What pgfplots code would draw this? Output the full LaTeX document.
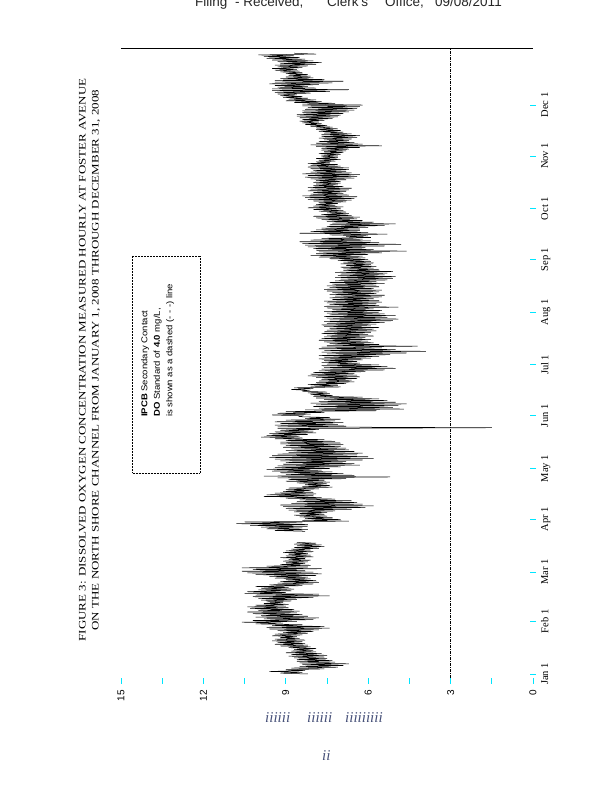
\documentclass[border=0pt]{standalone}
\usepackage{fontspec}
\setmainfont{Liberation Serif}
\setsansfont{Liberation Sans}
\newfontfamily\titlefont[FakeStretch=1.3]{Liberation Serif}
\newfontfamily\notefont[FakeStretch=1.12]{Liberation Sans}
\usepackage{pgfplots}
\usepackage{pgfplotstable}
\pgfplotsset{compat=1.18}

% Hourly DO record condensed to daily low (day d) and daily high (day d+0.5), mg/L
\pgfplotstableread[row sep=\\]{
d v\\
0 8.2\\0.5 9.2\\1 8.4\\1.5 9.6\\2 8.3\\2.5 9.0\\3 7.6\\3.5 8.8\\4 7.1\\4.5 8.5\\
5 6.9\\5.5 8.4\\6 6.7\\6.5 8.5\\7 7.2\\7.5 8.6\\8 7.3\\8.5 8.6\\9 7.5\\9.5 8.7\\
10 7.6\\10.5 8.9\\11 7.5\\11.5 8.8\\12 7.7\\12.5 9.0\\13 7.9\\13.5 8.8\\14 8.0\\14.5 8.7\\
15 7.9\\15.5 8.9\\16 8.1\\16.5 9.2\\17 8.2\\17.5 9.4\\18 8.3\\18.5 9.3\\19 8.4\\19.5 9.5\\
20 8.3\\20.5 9.4\\21 8.5\\21.5 9.2\\22 8.6\\22.5 9.5\\23 8.4\\23.5 9.4\\24 8.2\\24.5 9.1\\
25 8.0\\25.5 9.3\\26 7.8\\26.5 9.6\\27 7.4\\27.5 9.7\\28 7.6\\28.5 9.5\\29 8.4\\29.5 10.1\\
30 9.1\\30.5 10.6\\31 8.6\\31.5 10.2\\32 8.0\\32.5 9.8\\33 7.8\\33.5 10.1\\34 8.2\\34.5 9.9\\
35 8.4\\35.5 10.2\\36 8.6\\36.5 10.4\\37 8.5\\37.5 10.0\\38 8.7\\38.5 10.3\\39 8.9\\39.5 10.4\\
40 9.0\\40.5 10.1\\41 8.9\\41.5 9.8\\42 9.1\\42.5 9.7\\43 8.8\\43.5 9.9\\44 8.6\\44.5 10.0\\
45 8.0\\45.5 10.2\\46 7.4\\46.5 10.1\\47 7.8\\47.5 10.5\\48 9.0\\48.5 10.4\\49 8.8\\49.5 10.0\\
50 8.7\\50.5 9.9\\51 8.9\\51.5 10.1\\52 8.4\\52.5 9.6\\53 8.0\\53.5 9.3\\54 7.8\\54.5 9.2\\
55 7.9\\55.5 9.0\\56 8.1\\56.5 9.4\\57 8.2\\57.5 9.6\\58 7.9\\58.5 10.1\\59 7.7\\59.5 10.4\\
60 8.0\\60.5 10.6\\61 8.3\\61.5 10.2\\62 7.7\\62.5 10.6\\63 8.2\\63.5 9.7\\64 8.1\\64.5 9.2\\
65 8.3\\65.5 9.0\\66 8.2\\66.5 9.1\\67 8.1\\67.5 8.9\\68 8.3\\68.5 9.2\\69 8.0\\69.5 9.0\\
70 8.1\\70.5 8.9\\71 8.2\\71.5 9.1\\72 8.0\\72.5 9.0\\73 8.1\\73.5 8.8\\74 7.8\\74.5 8.7\\
75 7.6\\75.5 8.6\\76 7.7\\76.5 8.7\\77 7.9\\77.5 8.6\\80 nan\\
84 8.3\\84.5 9.4\\85 8.2\\85.5 9.7\\86 8.4\\86.5 9.9\\87 8.2\\87.5 10.3\\88 8.2\\88.5 10.8\\
89 8.4\\89.5 10.5\\90 6.7\\90.5 8.4\\91 7.0\\91.5 8.3\\92 7.3\\92.5 8.5\\93 7.5\\93.5 8.7\\
94 7.6\\94.5 8.5\\95 7.5\\95.5 8.7\\96 7.2\\96.5 8.9\\97 6.6\\97.5 9.0\\98 6.1\\98.5 9.1\\
99 5.8\\99.5 9.2\\100 6.2\\100.5 8.8\\101 6.4\\101.5 8.6\\102 6.6\\102.5 8.5\\103 7.2\\103.5 9.0\\
104 7.7\\104.5 9.8\\105 8.0\\105.5 9.7\\106 7.9\\106.5 9.4\\107 8.0\\107.5 9.1\\108 8.1\\108.5 9.0\\
109 7.8\\109.5 8.9\\110 7.3\\110.5 8.4\\111 7.4\\111.5 8.3\\112 7.5\\112.5 8.6\\113 7.4\\113.5 9.0\\
114 7.6\\114.5 8.9\\115 6.8\\115.5 9.3\\116 5.2\\116.5 9.8\\117 6.5\\117.5 9.0\\118 6.9\\118.5 9.2\\
119 7.3\\119.5 9.5\\120 7.7\\120.5 9.7\\121 7.4\\121.5 9.4\\122 7.0\\122.5 9.3\\123 6.3\\123.5 9.1\\
124 6.5\\124.5 9.0\\125 6.8\\125.5 9.2\\126 6.2\\126.5 9.4\\127 5.8\\127.5 9.6\\128 6.0\\128.5 9.5\\
129 6.4\\129.5 9.3\\130 6.2\\130.5 8.9\\131 6.5\\131.5 9.0\\132 6.7\\132.5 8.8\\133 6.8\\133.5 9.1\\
134 7.0\\134.5 9.0\\135 6.9\\135.5 9.2\\136 7.0\\136.5 9.2\\137 7.2\\137.5 9.0\\138 7.6\\138.5 9.4\\
139 8.4\\139.5 9.9\\140 8.5\\140.5 9.7\\141 8.2\\141.5 9.6\\142 7.9\\142.5 9.4\\143 8.0\\143.5 9.2\\
144 7.8\\144.5 9.3\\145 1.5\\145.5 9.3\\146 6.8\\146.5 9.4\\147 7.1\\147.5 9.2\\148 6.9\\148.5 9.4\\
149 7.2\\149.5 9.0\\150 7.0\\150.5 8.3\\151 7.4\\151.5 8.5\\152 8.4\\152.5 9.5\\153 8.1\\153.5 9.3\\
154 7.6\\154.5 9.0\\155 5.7\\155.5 8.3\\156 4.7\\156.5 7.8\\157 5.1\\157.5 8.0\\158 4.9\\158.5 7.9\\
159 4.6\\159.5 8.1\\160 5.0\\160.5 7.8\\161 5.3\\161.5 7.6\\162 5.6\\162.5 7.9\\163 6.2\\163.5 8.0\\
164 7.3\\164.5 8.1\\165 7.4\\165.5 8.2\\166 7.5\\166.5 8.4\\167 8.2\\167.5 8.8\\168 8.0\\168.5 8.7\\
169 7.0\\169.5 8.1\\170 7.1\\170.5 8.2\\171 6.8\\171.5 7.9\\172 6.5\\172.5 7.8\\173 6.6\\173.5 7.7\\
174 6.4\\174.5 7.9\\175 6.3\\175.5 8.2\\176 6.4\\176.5 8.1\\177 6.5\\177.5 8.0\\178 6.1\\178.5 7.8\\
179 5.4\\179.5 7.7\\180 5.0\\180.5 7.6\\181 5.3\\181.5 7.7\\182 5.6\\182.5 7.5\\183 6.3\\183.5 7.7\\
184 6.4\\184.5 7.6\\185 6.2\\185.5 7.8\\186 5.9\\186.5 7.6\\187 5.6\\187.5 7.8\\188 5.2\\188.5 7.5\\
189 4.6\\189.5 7.7\\190 3.9\\190.5 7.6\\191 5.0\\191.5 7.8\\192 5.5\\192.5 7.7\\193 4.2\\193.5 7.5\\
194 5.6\\194.5 7.4\\195 5.8\\195.5 7.6\\196 6.0\\196.5 7.8\\197 5.9\\197.5 7.7\\198 6.1\\198.5 7.6\\
199 5.8\\199.5 7.5\\200 6.0\\200.5 7.7\\201 5.9\\201.5 7.6\\202 5.7\\202.5 7.5\\203 5.8\\203.5 7.4\\
204 5.6\\204.5 7.6\\205 5.9\\205.5 7.7\\206 5.7\\206.5 7.5\\207 5.4\\207.5 7.6\\208 5.1\\208.5 7.4\\
209 4.9\\209.5 7.5\\210 5.3\\210.5 7.6\\211 5.0\\211.5 7.4\\212 5.4\\212.5 7.5\\213 5.6\\213.5 7.6\\
214 5.5\\214.5 7.3\\215 5.8\\215.5 7.5\\216 4.9\\216.5 7.6\\217 5.6\\217.5 7.4\\218 5.7\\218.5 7.5\\
219 5.5\\219.5 7.6\\220 5.6\\220.5 7.3\\221 5.8\\221.5 7.4\\222 5.5\\222.5 7.2\\223 5.4\\223.5 7.4\\
224 5.7\\224.5 7.3\\225 5.6\\225.5 7.5\\226 5.5\\226.5 7.6\\227 5.8\\227.5 7.4\\228 5.6\\228.5 7.5\\
229 5.7\\229.5 7.3\\230 5.4\\230.5 7.4\\231 5.7\\231.5 7.2\\232 5.3\\232.5 7.0\\233 5.1\\233.5 7.2\\
234 5.0\\234.5 7.1\\235 5.4\\235.5 7.0\\236 5.3\\236.5 7.2\\237 5.1\\237.5 6.9\\238 5.6\\238.5 6.9\\
239 5.8\\239.5 7.0\\240 5.7\\240.5 6.8\\241 5.9\\241.5 7.0\\242 5.8\\242.5 6.9\\243 5.9\\243.5 7.1\\
244 6.0\\244.5 7.4\\245 6.1\\245.5 7.8\\246 6.2\\246.5 8.1\\247 6.0\\247.5 7.9\\248 5.5\\248.5 7.8\\
249 4.6\\249.5 7.9\\250 5.8\\250.5 8.0\\251 6.1\\251.5 8.2\\252 5.4\\252.5 8.3\\253 4.8\\253.5 8.4\\
254 5.6\\254.5 8.5\\255 5.9\\255.5 8.1\\256 6.2\\256.5 7.7\\257 5.9\\257.5 6.8\\258 6.0\\258.5 7.4\\
259 5.3\\259.5 8.5\\260 6.0\\260.5 8.1\\261 6.3\\261.5 7.9\\262 6.3\\262.5 7.7\\263 6.0\\263.5 7.5\\
264 5.4\\264.5 7.4\\265 5.0\\265.5 7.3\\266 5.8\\266.5 7.5\\267 6.2\\267.5 7.7\\268 6.4\\268.5 7.9\\
269 6.3\\269.5 8.0\\270 6.6\\270.5 7.7\\271 6.7\\271.5 7.5\\272 6.8\\272.5 7.8\\273 6.9\\273.5 8.0\\
274 7.0\\274.5 8.2\\275 6.9\\275.5 8.0\\276 7.2\\276.5 7.9\\277 7.1\\277.5 7.8\\278 6.8\\278.5 8.0\\
279 6.6\\279.5 8.2\\280 6.5\\280.5 8.3\\281 6.4\\281.5 8.4\\282 6.7\\282.5 8.1\\283 6.9\\283.5 8.0\\
284 6.8\\284.5 8.2\\285 6.7\\285.5 8.1\\286 6.6\\286.5 8.2\\287 6.9\\287.5 8.0\\288 7.1\\288.5 7.9\\
289 7.0\\289.5 8.0\\290 7.0\\290.5 7.9\\291 6.8\\291.5 8.1\\292 6.5\\292.5 8.3\\293 6.4\\293.5 8.2\\
294 6.3\\294.5 8.4\\295 6.6\\295.5 8.1\\296 6.8\\296.5 8.0\\297 6.7\\297.5 8.1\\298 6.7\\298.5 8.2\\
299 7.0\\299.5 8.1\\300 7.1\\300.5 8.2\\301 7.4\\301.5 7.9\\302 7.2\\302.5 7.8\\303 7.0\\303.5 7.9\\
304 7.1\\304.5 7.7\\305 7.1\\305.5 7.7\\306 7.0\\306.5 7.8\\307 6.9\\307.5 7.6\\308 6.8\\308.5 7.7\\
309 6.7\\309.5 7.7\\310 6.3\\310.5 7.9\\311 5.5\\311.5 8.1\\312 6.2\\312.5 7.9\\313 6.5\\313.5 7.8\\
314 6.7\\314.5 7.6\\315 6.6\\315.5 7.8\\316 6.4\\316.5 7.7\\317 6.3\\317.5 7.7\\318 6.6\\318.5 7.6\\
319 6.9\\319.5 7.8\\320 7.0\\320.5 7.9\\321 7.1\\321.5 7.9\\322 7.3\\322.5 8.1\\323 7.5\\323.5 8.3\\
324 7.7\\324.5 8.4\\325 7.8\\325.5 8.5\\326 7.6\\326.5 8.4\\327 7.3\\327.5 8.5\\328 7.1\\328.5 8.6\\
329 7.0\\329.5 8.6\\330 6.9\\330.5 8.4\\331 6.7\\331.5 8.4\\332 6.5\\332.5 8.3\\333 6.4\\333.5 8.2\\
334 6.3\\334.5 8.4\\335 6.2\\335.5 8.4\\336 7.2\\336.5 8.7\\337 7.7\\337.5 9.0\\338 7.9\\338.5 8.9\\
339 8.2\\339.5 9.1\\340 8.4\\340.5 9.2\\341 8.6\\341.5 9.3\\342 8.1\\342.5 9.4\\343 7.4\\343.5 9.5\\
344 6.7\\344.5 9.5\\345 7.9\\345.5 9.3\\346 8.2\\346.5 9.4\\347 7.8\\347.5 9.6\\348 7.3\\348.5 9.4\\
349 6.9\\349.5 9.4\\350 7.6\\350.5 9.2\\351 8.0\\351.5 9.0\\352 8.1\\352.5 8.9\\353 8.2\\353.5 9.0\\
354 8.4\\354.5 9.2\\355 8.5\\355.5 9.4\\356 8.6\\356.5 9.5\\357 8.4\\357.5 9.3\\358 8.2\\358.5 9.4\\
359 7.9\\359.5 9.2\\360 7.7\\360.5 9.3\\361 8.0\\361.5 9.5\\362 8.3\\362.5 9.7\\363 8.5\\363.5 9.8\\
364 8.7\\364.5 10.0\\365 7.9\\365.5 8.7\\
}\dotable

\definecolor{tickcyan}{RGB}{0,230,255}
\definecolor{junkink}{RGB}{70,80,120}

\begin{document}
\begin{tikzpicture}
\path[use as bounding box] (0,0) rectangle (612pt,800pt);

% filing stamp across the top of the page
\begin{scope}[every node/.style={anchor=base west, inner sep=0pt, font=\sffamily\fontsize{13.5}{14}\selectfont, text=black!85}]
\node at (195pt,793pt) {Filing};
\node at (235pt,793pt) {- Received,};
\node at (327pt,793pt) {Clerk's};
\node at (385pt,793pt) {Office,};
\node at (435pt,793pt) {09/08/2011};
\end{scope}

\begin{axis}[
  at={(533pt,126pt)}, anchor=origin,
  scale only axis, width=412pt, height=631.8pt,
  xmin=0, xmax=15, ymin=-4, ymax=368,
  x dir=reverse,
  clip=false,
  axis line style={draw=none},
  xtick={0,3,6,9,12,15},
  xticklabels={0,3,6,9,12,15},
  minor xtick={1.5,4.5,7.5,10.5,13.5},
  ytick={0,31,60,91,121,152,182,213,244,274,305,335},
  yticklabels={Jan 1,Feb 1,Mar 1,Apr 1,May 1,Jun 1,Jul 1,Aug 1,Sep 1,Oct 1,Nov 1,Dec 1},
  xtick pos=lower, ytick pos=right,
  xticklabel pos=lower, yticklabel pos=right,
  tick align=center,
  major tick length=6pt, minor tick length=6pt,
  every tick/.style={tickcyan, line width=0.9pt},
  xticklabel style={rotate=90, anchor=east, inner sep=0pt,
    font=\sffamily\fontsize{10}{12}\selectfont},
  yticklabel style={rotate=90, anchor=north, inner sep=0pt,
    font=\rmfamily\fontsize{10.5}{12}\selectfont},
  xticklabel shift=6pt,
  yticklabel shift=5pt,
]
% daily swing of the hourly record
\addplot[black, line width=0.5pt, mark=none, unbounded coords=jump]
  table[x=v, y=d] {\dotable};
% DO standard
\addplot[black, line width=0.6pt, dash pattern=on 3pt off 1pt on 1pt off 1pt]
  coordinates {(3,-2.4) (3,368)};
% frame line at the end of the record
\draw[black, line width=1pt] (rel axis cs:0,1) -- (rel axis cs:1,1);
\end{axis}

% title
\node[rotate=90, align=center, inner sep=0pt,
  font=\titlefont\fontsize{10}{13}\selectfont] at (89.5pt,440pt)
  {FIGURE 3: DISSOLVED OXYGEN CONCENTRATION MEASURED HOURLY AT FOSTER AVENUE\\
   ON THE NORTH SHORE CHANNEL FROM JANUARY 1, 2008 THROUGH DECEMBER 31, 2008};

% note box
\draw[black, densely dotted, line width=0.5pt] (132pt,544pt) rectangle (200pt,327pt);
\node[rotate=90, align=left, anchor=north west, inner sep=0pt,
  font=\notefont\fontsize{8.5}{12.5}\selectfont] at (141pt,383pt)
  {\textbf{IPCB} Secondary Contact\\
   \textbf{DO} Standard of \textbf{4.0} mg/L,\\
   is shown as a dashed (- - -) line};

% stray marks near the foot of the page
\begin{scope}[every node/.style={anchor=base west, inner sep=0pt, text=junkink,
    font=\rmfamily\itshape\fontsize{15}{16}\selectfont}]
\node at (265pt,77pt) {iiiiii};
\node at (307pt,77pt) {iiiiii};
\node at (345pt,77pt) {iiiiiiiii};
\node at (322pt,39pt) {ii};
\end{scope}
\end{tikzpicture}
\end{document}
